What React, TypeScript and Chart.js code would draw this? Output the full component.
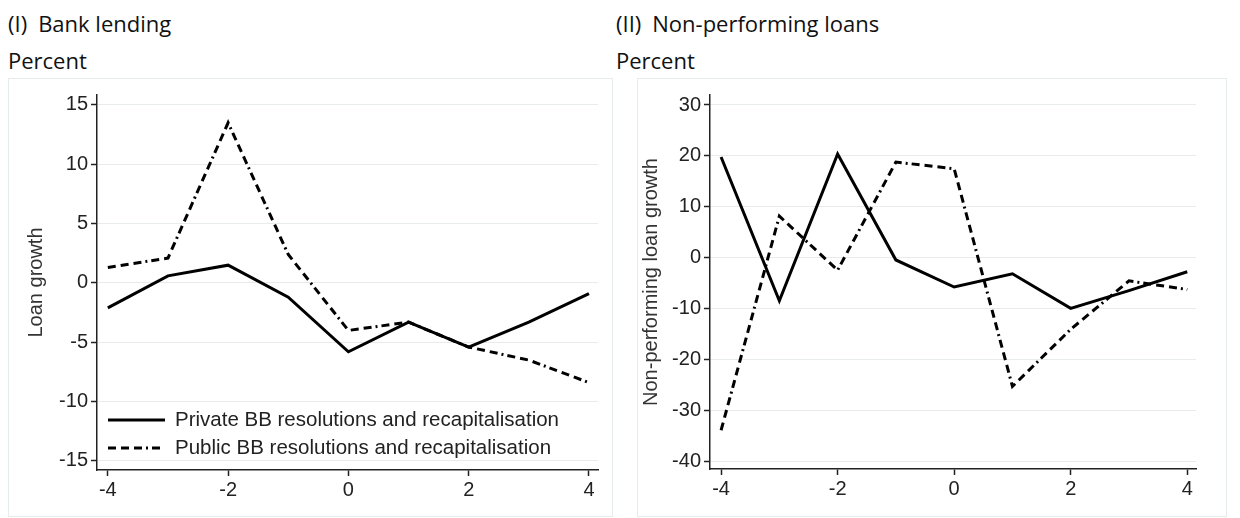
import React, { useEffect, useRef } from "react";
import { Chart, registerables } from "chart.js";

Chart.register(...registerables);

// ---- data ----
const periods = [-4, -3, -2, -1, 0, 1, 2, 3, 4];
const seriesLabels = [
  "Private BB resolutions and recapitalisation",
  "Public BB resolutions and recapitalisation",
];
const lendingPrivate = [-2.1, 0.6, 1.5, -1.2, -5.8, -3.3, -5.4, -3.3, -0.9];
const lendingPublic = [1.3, 2.1, 13.5, 2.4, -4.0, -3.3, -5.4, -6.5, -8.4];
const nplPrivate = [19.8, -8.4, 20.4, -0.4, -5.7, -3.1, -9.9, -6.4, -2.7];
const nplPublic = [-33.8, 8.2, -2.4, 18.8, 17.5, -25.2, -14.0, -4.5, -6.2];
const xTicks = [-4, -2, 0, 2, 4];
const lendingYTicks = [-15, -10, -5, 0, 5, 10, 15];
const nplYTicks = [-40, -30, -20, -10, 0, 10, 20, 30];

const TICK_FONT = "'Liberation Sans', Arial, sans-serif";
const TITLE_FONT = "'Open Sans', 'Noto Sans', sans-serif";
const PUBLIC_DASH = [8, 5, 8, 5, 8, 4, 2, 4];

const insideLegend = {
  id: "insideLegend",
  afterDatasetsDraw(chart: any, _args: any, opts: any) {
    if (!opts || !opts.show) return;
    const { ctx, chartArea } = chart;
    ctx.save();
    chart.data.datasets.forEach((ds: any, i: number) => {
      const y = chartArea.bottom - opts.rowOffsets[i];
      const x0 = chartArea.left + opts.x0;
      ctx.beginPath();
      ctx.setLineDash(ds.borderDash || []);
      ctx.lineWidth = ds.borderWidth;
      ctx.strokeStyle = ds.borderColor;
      ctx.moveTo(x0, y);
      ctx.lineTo(x0 + opts.lineLen, y);
      ctx.stroke();
      ctx.setLineDash([]);
      ctx.fillStyle = "#222";
      ctx.font = `20.5px ${TICK_FONT}`;
      ctx.textBaseline = "middle";
      ctx.textAlign = "left";
      ctx.fillText(ds.label, x0 + opts.lineLen + opts.textGap, y);
    });
    ctx.restore();
  },
};

type PanelProps = {
  privateVals: number[];
  publicVals: number[];
  yTicks: number[];
  yMin: number;
  yMax: number;
  xMin: number;
  xMax: number;
  yTitle: string;
  yWidth: number;
  xHeight: number;
  padRight: number;
  padTop: number;
  titlePad: number;
  showLegend: boolean;
  width: number;
  height: number;
};

function Panel(p: PanelProps) {
  const ref = useRef<HTMLCanvasElement | null>(null);
  useEffect(() => {
    if (!ref.current) return;
    const chart = new Chart(ref.current, {
      type: "line",
      data: {
        datasets: [
          {
            label: seriesLabels[0],
            data: periods.map((x, i) => ({ x, y: p.privateVals[i] })),
            borderColor: "#000",
            borderWidth: 3,
            pointRadius: 0,
            tension: 0,
          },
          {
            label: seriesLabels[1],
            data: periods.map((x, i) => ({ x, y: p.publicVals[i] })),
            borderColor: "#000",
            borderWidth: 3,
            borderDash: PUBLIC_DASH,
            pointRadius: 0,
            tension: 0,
          },
        ],
      },
      options: {
        animation: false,
        responsive: false,
        events: [],
        layout: { padding: { left: 0, right: p.padRight, top: p.padTop, bottom: 0 } },
        plugins: {
          legend: { display: false },
          tooltip: { enabled: false },
          insideLegend: { show: p.showLegend, x0: 11, lineLen: 57, textGap: 10, rowOffsets: [50, 22] },
        } as any,
        scales: {
          x: {
            type: "linear",
            min: p.xMin,
            max: p.xMax,
            afterBuildTicks: (s: any) => {
              s.ticks = xTicks.map((v) => ({ value: v }));
            },
            afterFit: (s: any) => {
              s.height = p.xHeight;
            },
            ticks: {
              color: "#222",
              font: { family: TICK_FONT, size: 20 },
              padding: 2,
              autoSkip: false,
              maxRotation: 0,
              callback: (v: any) => String(v),
            },
            grid: { drawOnChartArea: false, drawTicks: true, tickLength: 6, tickColor: "#222", tickWidth: 1.5 },
            border: { display: true, color: "#222", width: 1.5 },
          },
          y: {
            type: "linear",
            min: p.yMin,
            max: p.yMax,
            afterBuildTicks: (s: any) => {
              s.ticks = p.yTicks.map((v) => ({ value: v }));
            },
            afterFit: (s: any) => {
              s.width = p.yWidth;
            },
            ticks: {
              color: "#222",
              font: { family: TICK_FONT, size: 20 },
              padding: 3,
              autoSkip: false,
              callback: (v: any) => String(v),
            },
            grid: { color: "#e8ebeb", lineWidth: 1, drawTicks: true, tickLength: 6, tickColor: "#222", tickWidth: 1.5 },
            border: { display: true, color: "#222", width: 1.5 },
            title: {
              display: true,
              text: p.yTitle,
              color: "#333",
              font: { family: TICK_FONT, size: 20 },
              padding: { top: p.titlePad, bottom: 0 },
            },
          },
        },
      },
      plugins: [insideLegend],
    } as any);
    return () => chart.destroy();
  }, []);
  return <canvas ref={ref} width={p.width} height={p.height} style={{ width: p.width, height: p.height, display: "block" }} />;
}

const titleStyle: React.CSSProperties = {
  position: "absolute",
  fontFamily: TITLE_FONT,
  fontSize: 22,
  lineHeight: "30px",
  color: "#111",
  whiteSpace: "nowrap",
};

const frameStyle: React.CSSProperties = {
  position: "absolute",
  border: "1px solid #e6ecec",
  boxSizing: "border-box",
  pointerEvents: "none",
};

export default function App() {
  return (
    <div style={{ position: "absolute", left: 0, top: 0, width: 1240, height: 518, background: "#fff", overflow: "hidden" }}>
      <div style={{ ...titleStyle, left: 8, top: 8 }}>
        <span>(I)</span>
        <span style={{ marginLeft: 11 }}>Bank lending</span>
      </div>
      <div style={{ ...titleStyle, left: 8, top: 45 }}>Percent</div>
      <div style={{ ...titleStyle, left: 616, top: 8 }}>
        <span>(II)</span>
        <span style={{ marginLeft: 11 }}>Non-performing loans</span>
      </div>
      <div style={{ ...titleStyle, left: 616, top: 45 }}>Percent</div>

      <div style={{ position: "absolute", left: 8, top: 78 }}>
        <Panel
          privateVals={lendingPrivate}
          publicVals={lendingPublic}
          yTicks={lendingYTicks}
          yMin={-15.76}
          yMax={15.84}
          xMin={-4.18}
          xMax={4.15}
          yTitle="Loan growth"
          yWidth={89}
          xHeight={48}
          padRight={15}
          padTop={17}
          titlePad={16}
          showLegend={true}
          width={605}
          height={440}
        />
      </div>
      <div style={{ ...frameStyle, left: 8, top: 78, width: 605, height: 439 }} />

      <div style={{ position: "absolute", left: 637, top: 78 }}>
        <Panel
          privateVals={nplPrivate}
          publicVals={nplPublic}
          yTicks={nplYTicks}
          yMin={-41.4}
          yMax={31.96}
          xMin={-4.19}
          xMax={4.15}
          yTitle="Non-performing loan growth"
          yWidth={73}
          xHeight={49}
          padRight={31}
          padTop={17}
          titlePad={2}
          showLegend={false}
          width={590}
          height={440}
        />
      </div>
      <div style={{ ...frameStyle, left: 637, top: 78, width: 590, height: 439 }} />
    </div>
  );
}
